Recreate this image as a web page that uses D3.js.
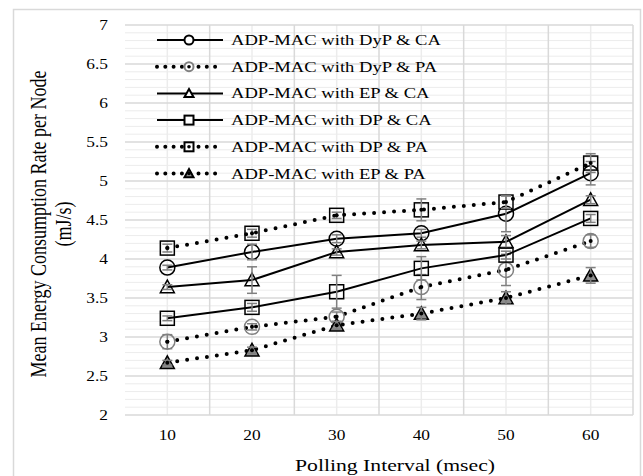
<!DOCTYPE html>
<html>
<head>
<meta charset="utf-8">
<script src="https://cdn.jsdelivr.net/npm/d3@7"></script>
<style>
  body { margin: 0; background: #fff; }
  text { font-family: "Liberation Serif", "Times New Roman", serif; fill: #000; }
</style>
</head>
<body>
<div id="chart"></div>
<script>
const categories = [10, 20, 30, 40, 50, 60];

const dypCA = [3.89, 4.09, 4.26, 4.33, 4.58, 5.10];
const dypPA = [2.94, 3.13, 3.26, 3.64, 3.86, 4.23];
const epCA  = [3.64, 3.73, 4.09, 4.18, 4.22, 4.76];
const dpCA  = [3.24, 3.38, 3.58, 3.88, 4.05, 4.52];
const dpPA  = [4.14, 4.33, 4.56, 4.63, 4.73, 5.23];
const epPA  = [2.67, 2.83, 3.15, 3.30, 3.50, 3.79];

const dypCAErr = [0.03, 0.10, 0.05, 0.05, 0.23, 0.15];
const dypPAErr = [0.09, 0.04, 0.06, 0.16, 0.20, 0.08];
const epCAErr  = [0.03, 0.17, 0.04, 0.05, 0.08, 0.05];
const dpCAErr  = [0.03, 0.05, 0.21, 0.15, 0.05, 0.05];
const dpPAErr  = [0.05, 0.05, 0.04, 0.14, 0.08, 0.12];
const epPAErr  = [0.03, 0.04, 0.05, 0.08, 0.08, 0.10];

const seriesNames = [
  'ADP-MAC with DyP & CA',
  'ADP-MAC with DyP & PA',
  'ADP-MAC with EP & CA',
  'ADP-MAC with DP & CA',
  'ADP-MAC with DP & PA',
  'ADP-MAC with EP & PA'
];

const series = [
  {name: seriesNames[0], values: dypCA, err: dypCAErr, marker: 'circle',   dotted: false, stroke: '#000', fill: 'none'},
  {name: seriesNames[1], values: dypPA, err: dypPAErr, marker: 'circle',   dotted: true,  stroke: '#808080', fill: 'none'},
  {name: seriesNames[2], values: epCA,  err: epCAErr,  marker: 'triangle', dotted: false, stroke: '#000', fill: 'none'},
  {name: seriesNames[3], values: dpCA,  err: dpCAErr,  marker: 'square',   dotted: false, stroke: '#000', fill: 'none'},
  {name: seriesNames[4], values: dpPA,  err: dpPAErr,  marker: 'square',   dotted: true,  stroke: '#000', fill: 'none'},
  {name: seriesNames[5], values: epPA,  err: epPAErr,  marker: 'triangle', dotted: true,  stroke: '#000', fill: '#8c8c8c'}
];

const W = 643, H = 476;
const m = {t: 25, r: 10, b: 61, l: 125};
const SX = 1.24; // the picture is stretched sideways

const svg = d3.select('#chart').append('svg')
  .attr('width', W)
  .attr('height', H);

// outer frame
svg.append('rect')
  .attr('x', 13.5).attr('y', 9.5)
  .attr('width', 627).attr('height', 490)
  .attr('fill', 'none')
  .attr('stroke', '#d9d9d9')
  .attr('stroke-width', 1.5);

const x = d3.scaleBand()
  .domain(categories)
  .range([m.l, W - m.r]);

const y = d3.scaleLinear()
  .domain([2, 7])
  .range([H - m.b, m.t]);

const cx = d => x(d) + x.bandwidth() / 2;

function label(g, tx, ty, str, size, anchor) {
  return g.append('text')
    .attr('transform', `translate(${tx},${ty}) scale(${SX},1)`)
    .attr('text-anchor', anchor || 'start')
    .style('font-size', size + 'px')
    .text(str);
}

// grid
const grid = svg.append('g');
const minorY = y.ticks(50).filter(v => Math.abs(v * 2 - Math.round(v * 2)) > 1e-6);
grid.selectAll('.minor-y')
  .data(minorY)
  .enter().append('line')
  .attr('x1', m.l).attr('x2', W - m.r)
  .attr('y1', d => y(d)).attr('y2', d => y(d))
  .attr('stroke', '#ececec')
  .attr('stroke-width', 1);

grid.selectAll('.minor-x')
  .data(categories)
  .enter().append('line')
  .attr('x1', d => cx(d)).attr('x2', d => cx(d))
  .attr('y1', m.t).attr('y2', y(2))
  .attr('stroke', '#ececec')
  .attr('stroke-width', 1.5);

grid.selectAll('.major-x')
  .data(categories.slice(1).concat([null]))
  .enter().append('line')
  .attr('x1', d => d === null ? W - m.r : x(d))
  .attr('x2', d => d === null ? W - m.r : x(d))
  .attr('y1', m.t).attr('y2', y(2))
  .attr('stroke', '#d9d9d9')
  .attr('stroke-width', 1.5);

grid.selectAll('.major-y')
  .data(y.ticks(10))
  .enter().append('line')
  .attr('x1', m.l).attr('x2', W - m.r)
  .attr('y1', d => y(d)).attr('y2', d => y(d))
  .attr('stroke', '#d9d9d9')
  .attr('stroke-width', 1.5);

// axis labels
const axes = svg.append('g');
y.ticks(10).forEach(v => {
  label(axes, 108, y(v) + 5, d3.format('~g')(v), 14, 'end');
});
categories.forEach(c => {
  label(axes, cx(c), 440, c, 14, 'middle');
});
label(axes, 395, 471, 'Polling Interval (msec)', 17.5, 'middle');

const yTitle = axes.append('g');
[['Mean Energy Consumption Rate per Node', 46], ['(mJ/s)', 71]].forEach(([t, bx]) => {
  yTitle.append('text')
    .attr('transform', `translate(${bx},224) scale(${SX},1) rotate(-90)`)
    .attr('text-anchor', 'middle')
    .style('font-size', '18px')
    .text(t);
});

// markers
function drawMarker(g, kind, px, py, s, stroke, fill, sw) {
  if (kind === 'circle') {
    g.append('circle').attr('cx', px).attr('cy', py).attr('r', s)
      .attr('fill', fill).attr('stroke', stroke).attr('stroke-width', sw);
  } else if (kind === 'square') {
    g.append('rect').attr('x', px - s).attr('y', py - s)
      .attr('width', 2 * s).attr('height', 2 * s)
      .attr('fill', fill).attr('stroke', stroke).attr('stroke-width', sw);
  } else {
    const h = s * 1.8;
    g.append('path')
      .attr('d', `M${px},${py - h * 0.55}L${px + s},${py + h * 0.45}L${px - s},${py + h * 0.45}Z`)
      .attr('fill', fill).attr('stroke', stroke).attr('stroke-width', sw)
      .attr('stroke-linejoin', 'miter');
  }
}

function styleLine(sel, dotted) {
  if (dotted) {
    sel.attr('stroke-width', 4)
      .attr('stroke-dasharray', '0 10')
      .attr('stroke-linecap', 'round');
  } else {
    sel.attr('stroke-width', 2);
  }
  return sel;
}

const line = d3.line()
  .x(d => cx(d.c))
  .y(d => y(d.v));

const plot = svg.append('g');
series.forEach(s => {
  const pts = categories.map((c, i) => ({c: c, v: s.values[i], e: s.err[i]}));
  const g = plot.append('g');

  styleLine(g.append('path')
    .datum(pts)
    .attr('d', line)
    .attr('fill', 'none')
    .attr('stroke', '#000'), s.dotted);

  pts.forEach(p => {
    drawMarker(g, s.marker, cx(p.c), y(p.v), s.marker === 'circle' ? 7.5 : 7, s.stroke, s.fill, 1.5);
  });

  const eb = g.append('g').attr('stroke', '#808080').attr('stroke-width', 1.5);
  pts.forEach(p => {
    const px = cx(p.c);
    eb.append('line').attr('x1', px).attr('x2', px).attr('y1', y(p.v - p.e)).attr('y2', y(p.v + p.e));
    [p.v - p.e, p.v + p.e].forEach(v => {
      eb.append('line').attr('x1', px - 5).attr('x2', px + 5).attr('y1', y(v)).attr('y2', y(v));
    });
  });

  if (s.dotted) {
    // the dotted line's dot shows on top of every marker
    g.selectAll('.dot').data(pts).enter().append('circle')
      .attr('cx', d => cx(d.c)).attr('cy', d => y(d.v)).attr('r', 2)
      .attr('fill', '#000');
  }
});

// legend
const legend = svg.append('g');
series.forEach((s, i) => {
  const ly = 40 + i * 26.7;
  styleLine(legend.append('line')
    .attr('x1', 157).attr('x2', 223)
    .attr('y1', ly).attr('y2', ly)
    .attr('stroke', '#000'), s.dotted)
    .attr('stroke-dasharray', s.dotted ? '0 8.3' : null);
  drawMarker(legend, s.marker, 189, ly, 4.5, s.stroke, s.fill === 'none' ? '#fff' : s.fill, 2);
  if (s.dotted) {
    legend.append('circle').attr('cx', 189).attr('cy', ly).attr('r', 1.8).attr('fill', '#000');
  }
  label(legend, 231, ly + 5, s.name, 15, 'start');
});
</script>
</body>
</html>
